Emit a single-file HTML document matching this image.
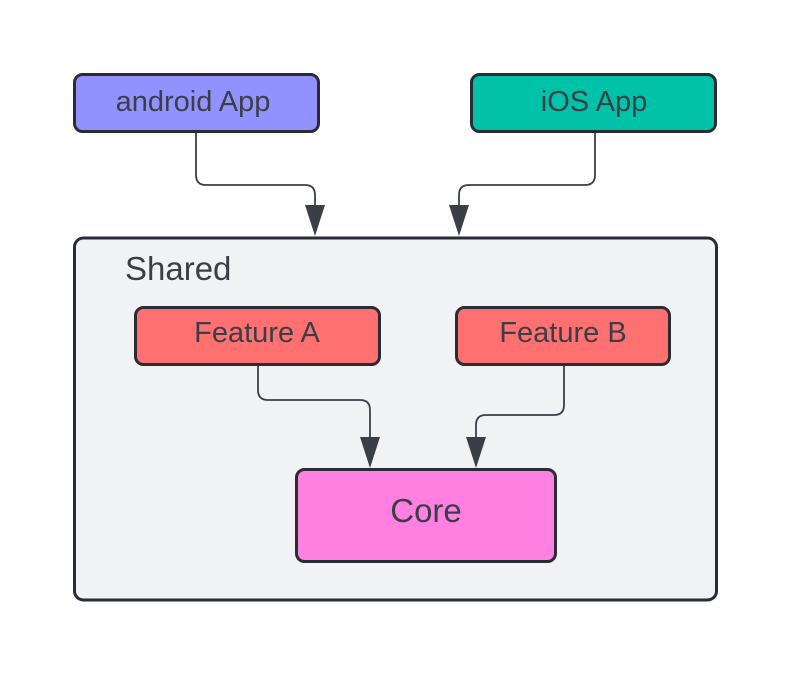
<!DOCTYPE html>
<html><head><meta charset="utf-8"><style>
html,body{margin:0;padding:0;background:#fff;}
svg{display:block;}
text{font-family:"Liberation Sans",sans-serif;fill:#3a3f47;}
</style></head><body>
<svg width="793" height="675" viewBox="0 0 793 675" xmlns="http://www.w3.org/2000/svg">
<rect x="0" y="0" width="793" height="675" fill="#fff"/>
<rect x="74.5" y="238" width="642" height="362" rx="9" fill="#f1f2f4" stroke="#282c33" stroke-width="3"/>
<text x="125" y="280" font-size="33">Shared</text>
<g fill="none" stroke="#3a3f47" stroke-width="1.8">
<path d="M196 132 V175 Q196 185 206 185 H305 Q315 185 315 195 V210"/>
<path d="M595 132 V175 Q595 185 585 185 H469 Q459 185 459 195 V210"/>
<path d="M258 365 V390 Q258 400 268 400 H360 Q370 400 370 410 V440"/>
<path d="M564 365 V405 Q564 415 554 415 H486 Q476 415 476 425 V440"/>
</g>
<g fill="#3a3f47">
<polygon points="305,205 325,205 315,236"/>
<polygon points="449,205 469,205 459,236"/>
<polygon points="360,437 380,437 370,468"/>
<polygon points="466,437 486,437 476,468"/>
</g>
<rect x="74.5" y="74.5" width="244" height="57" rx="8" fill="#9391ff" stroke="#282c33" stroke-width="3"/>
<text x="193" y="111" font-size="29" text-anchor="middle">android App</text>
<rect x="471.5" y="74.5" width="244" height="57" rx="8" fill="#00c2a8" stroke="#282c33" stroke-width="3"/>
<text x="594" y="111" font-size="29" text-anchor="middle">iOS App</text>
<rect x="135.5" y="307.5" width="244" height="57" rx="8" fill="#ff7070" stroke="#282c33" stroke-width="3"/>
<text x="257" y="342" font-size="29" text-anchor="middle">Feature A</text>
<rect x="456.5" y="307.5" width="213" height="57" rx="8" fill="#ff7070" stroke="#282c33" stroke-width="3"/>
<text x="563" y="342" font-size="29" text-anchor="middle">Feature B</text>
<rect x="296.5" y="469.5" width="259" height="92" rx="8" fill="#ff80e0" stroke="#282c33" stroke-width="3"/>
<text x="426" y="522" font-size="33" text-anchor="middle">Core</text>
</svg>
</body></html>
